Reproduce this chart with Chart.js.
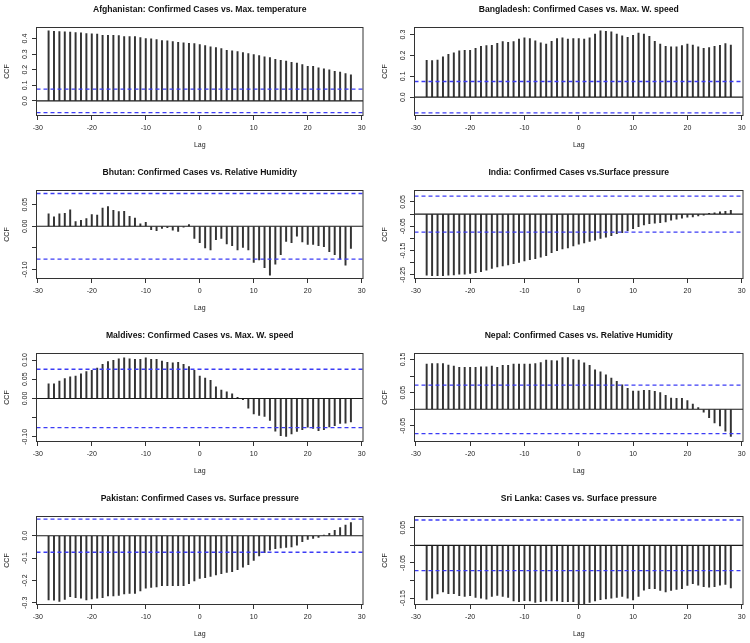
<!DOCTYPE html>
<html>
<head>
<meta charset="utf-8">
<script src="https://cdn.jsdelivr.net/npm/chart.js@4.4.0/dist/chart.umd.min.js"></script>
<style>
  html, body { margin: 0; padding: 0; background: #fff; }
  #wrap { position: relative; width: 750px; height: 643px; overflow: hidden; }
  #wrap canvas { position: absolute; }
</style>
</head>
<body>
<div id="wrap"></div>
<script>
// Cross-correlation panels: confirmed cases vs. weather variables

const lags = [-28, -27, -26, -25, -24, -23, -22, -21, -20, -19, -18, -17, -16, -15, -14,
    -13, -12, -11, -10, -9, -8, -7, -6, -5, -4, -3, -2, -1, 0, 1, 2, 3, 4, 5, 6, 7, 8, 9,
    10, 11, 12, 13, 14, 15, 16, 17, 18, 19, 20, 21, 22, 23, 24, 25, 26, 27, 28];
const xTicks = [-30, -20, -10, 0, 10, 20, 30];
const xRange = [-30.24, 30.24];

const titles = [
    'Afghanistan: Confirmed Cases vs. Max. temperature',
    'Bangladesh: Confirmed Cases vs. Max. W. speed',
    'Bhutan: Confirmed Cases vs. Relative Humidity',
    'India: Confirmed Cases vs.Surface pressure',
    'Maldives: Confirmed Cases vs. Max. W. speed',
    'Nepal: Confirmed Cases vs. Relative Humidity',
    'Pakistan: Confirmed Cases vs. Surface pressure',
    'Sri Lanka: Cases vs. Surface pressure'
];

const afghanistanCcf = [0.449, 0.447, 0.445, 0.443, 0.441, 0.438, 0.436, 0.432, 0.430, 0.428,
    0.421, 0.421, 0.421, 0.419, 0.413, 0.413, 0.413, 0.406, 0.400, 0.398, 0.394, 0.387, 0.385,
    0.381, 0.376, 0.372, 0.370, 0.368, 0.361, 0.355, 0.347, 0.342, 0.336, 0.325, 0.321, 0.317,
    0.310, 0.304, 0.297, 0.291, 0.282, 0.278, 0.267, 0.261, 0.255, 0.248, 0.242, 0.233, 0.222,
    0.222, 0.212, 0.205, 0.199, 0.190, 0.184, 0.175, 0.167];
const bangladeshCcf = [0.177, 0.175, 0.178, 0.193, 0.205, 0.213, 0.222, 0.225, 0.225, 0.234,
    0.244, 0.247, 0.249, 0.258, 0.266, 0.263, 0.266, 0.279, 0.284, 0.281, 0.270, 0.260, 0.255,
    0.268, 0.281, 0.284, 0.278, 0.281, 0.281, 0.278, 0.284, 0.302, 0.318, 0.316, 0.313, 0.302,
    0.294, 0.287, 0.297, 0.307, 0.302, 0.292, 0.268, 0.254, 0.244, 0.241, 0.241, 0.247, 0.254,
    0.250, 0.241, 0.234, 0.238, 0.244, 0.249, 0.257, 0.250];
const bhutanCcf = [0.029, 0.022, 0.029, 0.030, 0.038, 0.011, 0.014, 0.018, 0.027, 0.026,
    0.042, 0.046, 0.037, 0.034, 0.035, 0.023, 0.019, 0.006, 0.009, -0.008, -0.010, -0.005,
    -0.003, -0.009, -0.012, -0.002, 0.004, -0.028, -0.038, -0.050, -0.055, -0.031, -0.028,
    -0.041, -0.045, -0.055, -0.049, -0.055, -0.084, -0.078, -0.096, -0.113, -0.088, -0.066,
    -0.035, -0.038, -0.023, -0.036, -0.042, -0.042, -0.045, -0.047, -0.059, -0.066, -0.076,
    -0.090, -0.051];
const indiaCcf = [-0.251, -0.253, -0.253, -0.253, -0.251, -0.250, -0.247, -0.247, -0.244,
    -0.241, -0.237, -0.231, -0.224, -0.217, -0.213, -0.209, -0.204, -0.199, -0.193, -0.188,
    -0.183, -0.177, -0.171, -0.159, -0.151, -0.143, -0.139, -0.131, -0.124, -0.119, -0.112,
    -0.107, -0.100, -0.095, -0.089, -0.081, -0.076, -0.068, -0.060, -0.052, -0.045, -0.039,
    -0.037, -0.035, -0.032, -0.025, -0.021, -0.017, -0.013, -0.012, -0.008, -0.004, 0.003,
    0.005, 0.009, 0.011, 0.015];
const maldivesCcf = [0.038, 0.038, 0.045, 0.052, 0.056, 0.058, 0.064, 0.070, 0.073, 0.079,
    0.089, 0.096, 0.099, 0.103, 0.106, 0.103, 0.102, 0.102, 0.106, 0.102, 0.102, 0.097, 0.094,
    0.093, 0.094, 0.089, 0.083, 0.073, 0.058, 0.053, 0.047, 0.030, 0.022, 0.017, 0.012, 0.003,
    -0.003, -0.025, -0.040, -0.044, -0.047, -0.057, -0.085, -0.097, -0.099, -0.092, -0.086,
    -0.081, -0.075, -0.078, -0.084, -0.081, -0.074, -0.071, -0.065, -0.064, -0.061];
const nepalCcf = [0.136, 0.138, 0.138, 0.138, 0.133, 0.130, 0.126, 0.126, 0.126, 0.126, 0.128,
    0.128, 0.130, 0.126, 0.132, 0.132, 0.136, 0.136, 0.136, 0.136, 0.138, 0.141, 0.148, 0.147,
    0.146, 0.156, 0.156, 0.150, 0.148, 0.140, 0.132, 0.119, 0.113, 0.104, 0.094, 0.084, 0.074,
    0.063, 0.055, 0.055, 0.057, 0.057, 0.054, 0.050, 0.042, 0.034, 0.033, 0.033, 0.026, 0.016,
    0.005, -0.009, -0.025, -0.041, -0.050, -0.066, -0.082];
const pakistanCcf = [-0.288, -0.289, -0.294, -0.285, -0.273, -0.277, -0.280, -0.288, -0.283,
    -0.280, -0.277, -0.270, -0.270, -0.267, -0.261, -0.258, -0.258, -0.247, -0.235, -0.232,
    -0.229, -0.224, -0.224, -0.224, -0.224, -0.224, -0.215, -0.202, -0.191, -0.188, -0.182,
    -0.176, -0.170, -0.164, -0.161, -0.152, -0.141, -0.130, -0.111, -0.091, -0.076, -0.065,
    -0.058, -0.055, -0.052, -0.050, -0.042, -0.027, -0.017, -0.012, -0.008, 0.003, 0.011,
    0.024, 0.036, 0.048, 0.059];
const sriLankaCcf = [-0.155, -0.150, -0.138, -0.132, -0.137, -0.137, -0.143, -0.145, -0.143,
    -0.148, -0.150, -0.153, -0.145, -0.142, -0.145, -0.148, -0.158, -0.160, -0.157, -0.158,
    -0.162, -0.160, -0.158, -0.158, -0.158, -0.160, -0.160, -0.160, -0.166, -0.166, -0.162,
    -0.158, -0.154, -0.152, -0.150, -0.148, -0.145, -0.150, -0.155, -0.145, -0.127, -0.123,
    -0.123, -0.128, -0.132, -0.128, -0.125, -0.123, -0.114, -0.109, -0.113, -0.117, -0.119,
    -0.117, -0.113, -0.111, -0.121];

const seriesList = [afghanistanCcf, bangladeshCcf, bhutanCcf, indiaCcf,
    maldivesCcf, nepalCcf, pakistanCcf, sriLankaCcf];

// significance bounds (dashed blue)
const ciLevels = [0.075, 0.075, 0.076, 0.074, 0.076, 0.073, 0.074, 0.072];

const yRanges = [[-0.094, 0.471], [-0.088, 0.334], [-0.121, 0.083], [-0.265, 0.097],
    [-0.112, 0.117], [-0.097, 0.168], [-0.308, 0.086], [-0.168, 0.082]];

const yTickValues = [
    [0, 0.1, 0.2, 0.3, 0.4],
    [0, 0.1, 0.2, 0.3],
    [-0.10, -0.05, 0, 0.05],
    [-0.25, -0.20, -0.15, -0.10, -0.05, 0, 0.05],
    [-0.10, -0.05, 0, 0.05, 0.10],
    [-0.05, 0, 0.05, 0.10, 0.15],
    [-0.3, -0.2, -0.1, 0],
    [-0.15, -0.10, -0.05, 0, 0.05]
];
const yTickLabels = [
    ['0.0', '0.1', '0.2', '0.3', '0.4'],
    ['0.0', '0.1', '0.2', '0.3'],
    ['-0.10', '', '0.00', '0.05'],
    ['-0.25', '', '-0.15', '', '-0.05', '', '0.05'],
    ['-0.10', '', '0.00', '0.05', '0.10'],
    ['-0.05', '', '0.05', '', '0.15'],
    ['-0.3', '-0.2', '-0.1', '0.0'],
    ['-0.15', '', '-0.05', '', '0.05']
];

const FONT = "'Liberation Sans', Arial, sans-serif";
const INK = '#222';

// frame, title and rotated y labels, the way R draws them
const rStylePlugin = {
    id: 'rStyle',
    afterDraw(chart) {
        const ctx = chart.ctx;
        const a = chart.chartArea;
        const yScale = chart.scales.y;
        const opts = chart.options.plugins.rStyle;
        ctx.save();
        ctx.strokeStyle = '#333';
        ctx.lineWidth = 1;
        ctx.strokeRect(a.left, a.top, a.right - a.left, a.bottom - a.top);

        ctx.fillStyle = '#111';
        ctx.font = 'bold 8.6px ' + FONT;
        ctx.textAlign = 'center';
        ctx.textBaseline = 'middle';
        ctx.fillText(opts.title, (a.left + a.right) / 2, a.top - 18);

        ctx.font = '7px ' + FONT;
        ctx.fillStyle = INK;
        opts.values.forEach((v, i) => {
            if (!opts.labels[i]) return;
            const y = yScale.getPixelForValue(v);
            ctx.save();
            ctx.translate(a.left - 11.5, y);
            ctx.rotate(-Math.PI / 2);
            ctx.fillText(opts.labels[i], 0, 0);
            ctx.restore();
        });
        ctx.restore();
    }
};

const wrap = document.getElementById('wrap');

function makePanel(i) {
    const col = i % 2;
    const row = Math.floor(i / 2);
    const left = col === 0 ? 0 : 378;
    const width = col === 0 ? 375 : 372;
    const height = 163;

    const canvas = document.createElement('canvas');
    canvas.width = width;
    canvas.height = height;
    canvas.style.left = left + 'px';
    canvas.style.top = (row * 163) + 'px';
    canvas.style.width = width + 'px';
    canvas.style.height = height + 'px';
    wrap.appendChild(canvas);

    const values = seriesList[i];
    const ci = ciLevels[i];
    const hline = y => [{ x: xRange[0], y: y }, { x: xRange[1], y: y }];

    new Chart(canvas, {
        type: 'bar',
        data: {
            datasets: [
                {
                    type: 'bar',
                    data: lags.map((l, k) => ({ x: l, y: values[k] })),
                    backgroundColor: '#333',
                    barThickness: 1.3,
                    order: 3
                },
                {
                    type: 'line',
                    data: hline(0),
                    borderColor: '#1a1a1a',
                    borderWidth: 1.1,
                    pointRadius: 0,
                    order: 2
                },
                {
                    type: 'line',
                    data: hline(ci),
                    borderColor: '#3c3cf5',
                    borderWidth: 1.3,
                    borderDash: [4, 3],
                    pointRadius: 0,
                    order: 1
                },
                {
                    type: 'line',
                    data: hline(-ci),
                    borderColor: '#3c3cf5',
                    borderWidth: 1.3,
                    borderDash: [4, 3],
                    pointRadius: 0,
                    order: 1
                }
            ]
        },
        options: {
            responsive: false,
            animation: false,
            events: [],
            layout: { padding: { top: 27.5, right: col === 0 ? 12 : 7, bottom: 0, left: 0 } },
            plugins: {
                legend: { display: false },
                tooltip: { enabled: false },
                rStyle: { title: titles[i], values: yTickValues[i], labels: yTickLabels[i] }
            },
            scales: {
                x: {
                    type: 'linear',
                    min: xRange[0],
                    max: xRange[1],
                    offset: false,
                    afterBuildTicks: s => { s.ticks = xTicks.map(v => ({ value: v })); },
                    afterFit: s => { s.height = 47.5; },
                    grid: { drawOnChartArea: false, drawTicks: true, tickLength: 4.5, color: '#333', offset: false },
                    border: { display: false },
                    ticks: {
                        font: { family: FONT, size: 7 },
                        color: INK,
                        padding: 4,
                        maxRotation: 0,
                        autoSkip: false
                    },
                    title: {
                        display: true,
                        text: 'Lag',
                        font: { family: FONT, size: 7 },
                        color: INK,
                        padding: { top: 0, bottom: 13.8 }
                    }
                },
                y: {
                    type: 'linear',
                    min: yRanges[i][0],
                    max: yRanges[i][1],
                    afterBuildTicks: s => { s.ticks = yTickValues[i].map(v => ({ value: v })); },
                    afterFit: s => { s.width = 36.5; },
                    grid: { drawOnChartArea: false, drawTicks: true, tickLength: 4.5, color: '#333' },
                    border: { display: false },
                    ticks: { display: false },
                    title: {
                        display: true,
                        text: 'CCF',
                        font: { family: FONT, size: 7 },
                        color: INK,
                        padding: { top: 3.3, bottom: 0 }
                    }
                }
            }
        },
        plugins: [rStylePlugin]
    });
}

for (let i = 0; i < 8; i++) {
    makePanel(i);
}
</script>
</body>
</html>
